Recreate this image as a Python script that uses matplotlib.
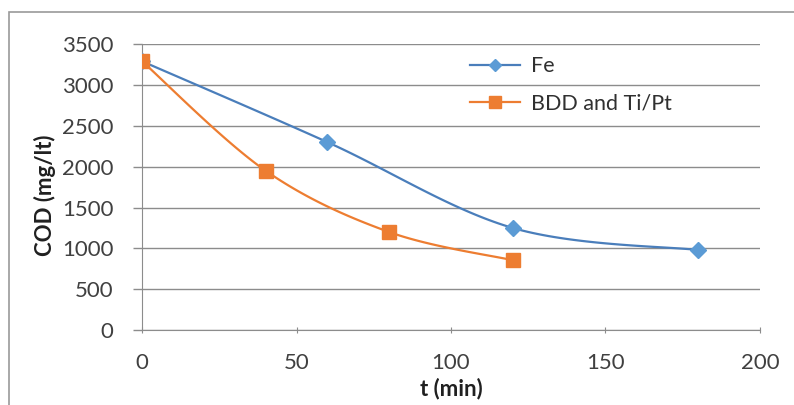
import numpy as np
import matplotlib
matplotlib.use('Agg')
import matplotlib.pyplot as plt
from matplotlib.patches import Rectangle

plt.rcParams['font.family'] = ['Lato', 'DejaVu Sans']

# data
t_fe = [0, 60, 120, 180]
cod_fe = [3290, 2300, 1250, 980]
t_bdd = [0, 40, 80, 120]
cod_bdd = [3290, 1950, 1200, 855]

x_ticks = [0, 50, 100, 150, 200]
y_ticks = [0, 500, 1000, 1500, 2000, 2500, 3000, 3500]


def smooth(x, y, n=40):
    # excel-like smoothed line: cubic bezier with catmull-rom control points
    x = np.asarray(x, float)
    y = np.asarray(y, float)
    px, py = [], []
    for i in range(len(x) - 1):
        x0, y0 = (x[i - 1], y[i - 1]) if i > 0 else (x[i], y[i])
        x3, y3 = (x[i + 2], y[i + 2]) if i + 2 < len(x) else (x[i + 1], y[i + 1])
        c1x = x[i] + (x[i + 1] - x0) / 6
        c1y = y[i] + (y[i + 1] - y0) / 6
        c2x = x[i + 1] - (x3 - x[i]) / 6
        c2y = y[i + 1] - (y3 - y[i]) / 6
        s = np.linspace(0, 1, n)
        b0, b1, b2, b3 = (1 - s) ** 3, 3 * s * (1 - s) ** 2, 3 * s ** 2 * (1 - s), s ** 3
        px.extend(b0 * x[i] + b1 * c1x + b2 * c2x + b3 * x[i + 1])
        py.extend(b0 * y[i] + b1 * c1y + b2 * c2y + b3 * y[i + 1])
    return px, py


blue = '#4A7EBB'
orange = '#ED7D31'

fig = plt.figure(figsize=(7.94, 4.05), dpi=100)
ax = fig.add_axes([0.179, 0.185, 0.778, 0.706])

sx, sy = smooth(t_fe, cod_fe)
ax.plot(sx, sy, color=blue, lw=1.6, zorder=3)
ax.plot(t_fe, cod_fe, ls='none', marker='D', ms=8, color='#5B9BD5', mec='#5B9BD5', zorder=4)
ax.plot([], [], color=blue, lw=1.6, marker='D', ms=6.5, mfc='#5B9BD5', mec='#5B9BD5', label='Fe')

sx, sy = smooth(t_bdd, cod_bdd)
ax.plot(sx, sy, color=orange, lw=1.6, zorder=3)
ax.plot(t_bdd, cod_bdd, ls='none', marker='s', ms=10.5, color=orange, zorder=4)
ax.plot([], [], color=orange, lw=1.6, marker='s', ms=9, label='BDD and Ti/Pt')

ax.set_xlim(0, 200)
ax.set_ylim(0, 3500)
ax.set_xticks(x_ticks)
ax.set_yticks(y_ticks)
ax.grid(axis='y', color='#8C8C8C', lw=1.0)
ax.set_axisbelow(True)
for side in ['top', 'right']:
    ax.spines[side].set_visible(False)
ax.spines['left'].set_color('#8C8C8C')
ax.spines['bottom'].set_color('#8C8C8C')
ax.tick_params(axis='x', colors='#8C8C8C', length=5, direction='inout', labelcolor='#404040',
               labelsize=16, pad=14)
ax.tick_params(axis='y', colors='#8C8C8C', length=6.5, direction='out', width=1.0,
               labelcolor='#404040', labelsize=16, pad=14)

ax.set_xlabel('t (min)', fontsize=16, fontweight='bold', color='#202020')
ax.set_ylabel('COD (mg/lt)', fontsize=16, fontweight='bold', color='#202020')
ax.xaxis.set_label_coords(0.5, -0.165)
ax.yaxis.set_label_coords(-0.14, 0.47)

ax.legend(loc='upper left', bbox_to_anchor=(0.5, 1.025), frameon=False, fontsize=15.5,
          handlelength=2.3, labelspacing=0.8, handletextpad=0.5, labelcolor='#303030')

fig.patches.append(Rectangle((9 / 794, -0.1), 1.0, 1 - 12 / 405 + 0.1,
                             transform=fig.transFigure, fill=False, ec='#9A9A9A', lw=1.2))

fig.savefig('out.png', dpi=100, facecolor='white')
